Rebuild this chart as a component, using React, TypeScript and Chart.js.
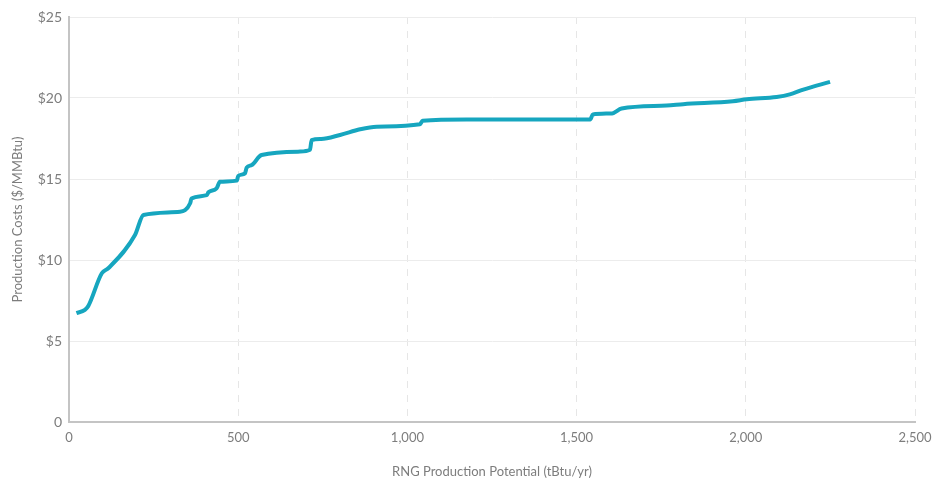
import React, { useEffect, useRef } from "react";
import { Chart, registerables } from "chart.js";

Chart.register(...registerables);

const potential = [22, 47, 57, 97, 116, 195, 220, 328, 358, 362, 407, 412, 436, 446, 496, 500, 520, 525, 540, 569, 683, 712, 717, 745, 801, 860, 909, 1037, 1045, 1175, 1540, 1548, 1605, 1633, 1766, 1815, 1962, 2003, 2091, 2130, 2170, 2249];
const costs = [6.72, 6.92, 7.16, 9.18, 9.49, 11.54, 12.78, 12.98, 13.5, 13.8, 14.0, 14.18, 14.42, 14.83, 14.9, 15.19, 15.35, 15.7, 15.86, 16.48, 16.69, 16.8, 17.4, 17.47, 17.72, 18.07, 18.23, 18.38, 18.6, 18.68, 18.68, 18.98, 19.05, 19.35, 19.53, 19.62, 19.8, 19.92, 20.06, 20.22, 20.52, 21.0];
const xTickValues = [0, 500, 1000, 1500, 2000, 2500];
const yTickValues = [0, 5, 10, 15, 20, 25];

const xTitle = "RNG Production Potential (tBtu/yr)";
const yTitle = "Production Costs ($/MMBtu)";

export default function App() {
  const ref = useRef<HTMLCanvasElement | null>(null);
  useEffect(() => {
    if (!ref.current) return;
    const points = potential.map((x, i) => ({ x, y: costs[i] }));
    const tickColor = "#7d7d7d";
    const chart = new Chart(ref.current, {
      type: "line",
      data: {
        datasets: [
          {
            data: points,
            borderColor: "#16a6bf",
            borderWidth: 4,
            pointRadius: 0,
            cubicInterpolationMode: "monotone",
            fill: false,
          },
        ],
      },
      options: {
        animation: false,
        responsive: false,
        maintainAspectRatio: false,
        layout: { padding: { top: 17, right: 23, left: 0, bottom: 0 } },
        plugins: { legend: { display: false }, tooltip: { enabled: false } },
        scales: {
          x: {
            type: "linear",
            min: 0,
            max: 2500,
            afterBuildTicks: (scale: any) => {
              scale.ticks = xTickValues.map((v) => ({ value: v }));
            },
            afterFit: (scale: any) => {
              scale.height = 64;
              scale.paddingLeft = 0;
              scale.paddingRight = 0;
            },
            grid: {
              color: "#e6e6e6",
              lineWidth: 1,
              drawTicks: false,
            },
            border: { display: true, color: "#c4c4c4", width: 2, dash: [7, 7] },
            ticks: {
              color: tickColor,
              padding: 8,
              font: { family: "Lato", size: 13 },
              maxRotation: 0,
              callback: (v: any) => Number(v).toLocaleString("en-US"),
            },
            title: {
              display: true,
              text: xTitle,
              color: tickColor,
              font: { family: "Lato", size: 13 },
              padding: { top: 10, bottom: 6 },
            },
          },
          y: {
            min: 0,
            max: 25,
            afterBuildTicks: (scale: any) => {
              scale.ticks = yTickValues.map((v) => ({ value: v }));
            },
            afterFit: (scale: any) => {
              scale.width = 69;
            },
            grid: { color: "#ececec", lineWidth: 1, drawTicks: false },
            border: { display: true, color: "#c4c4c4", width: 2 },
            ticks: {
              color: tickColor,
              padding: 7,
              font: { family: "Lato", size: 14 },
              callback: (v: any) => (Number(v) === 0 ? "0" : "$" + v),
            },
            title: {
              display: true,
              text: yTitle,
              color: tickColor,
              font: { family: "Lato", size: 13 },
              padding: { top: 10, bottom: 0 },
            },
          },
        },
      },
    } as any);
    return () => chart.destroy();
  }, []);
  return (
    <div style={{ position: "absolute", left: 0, top: 0, width: 938, height: 486, background: "#fff" }}>
      <canvas ref={ref} width={938} height={486} style={{ width: 938, height: 486 }} />
    </div>
  );
}
